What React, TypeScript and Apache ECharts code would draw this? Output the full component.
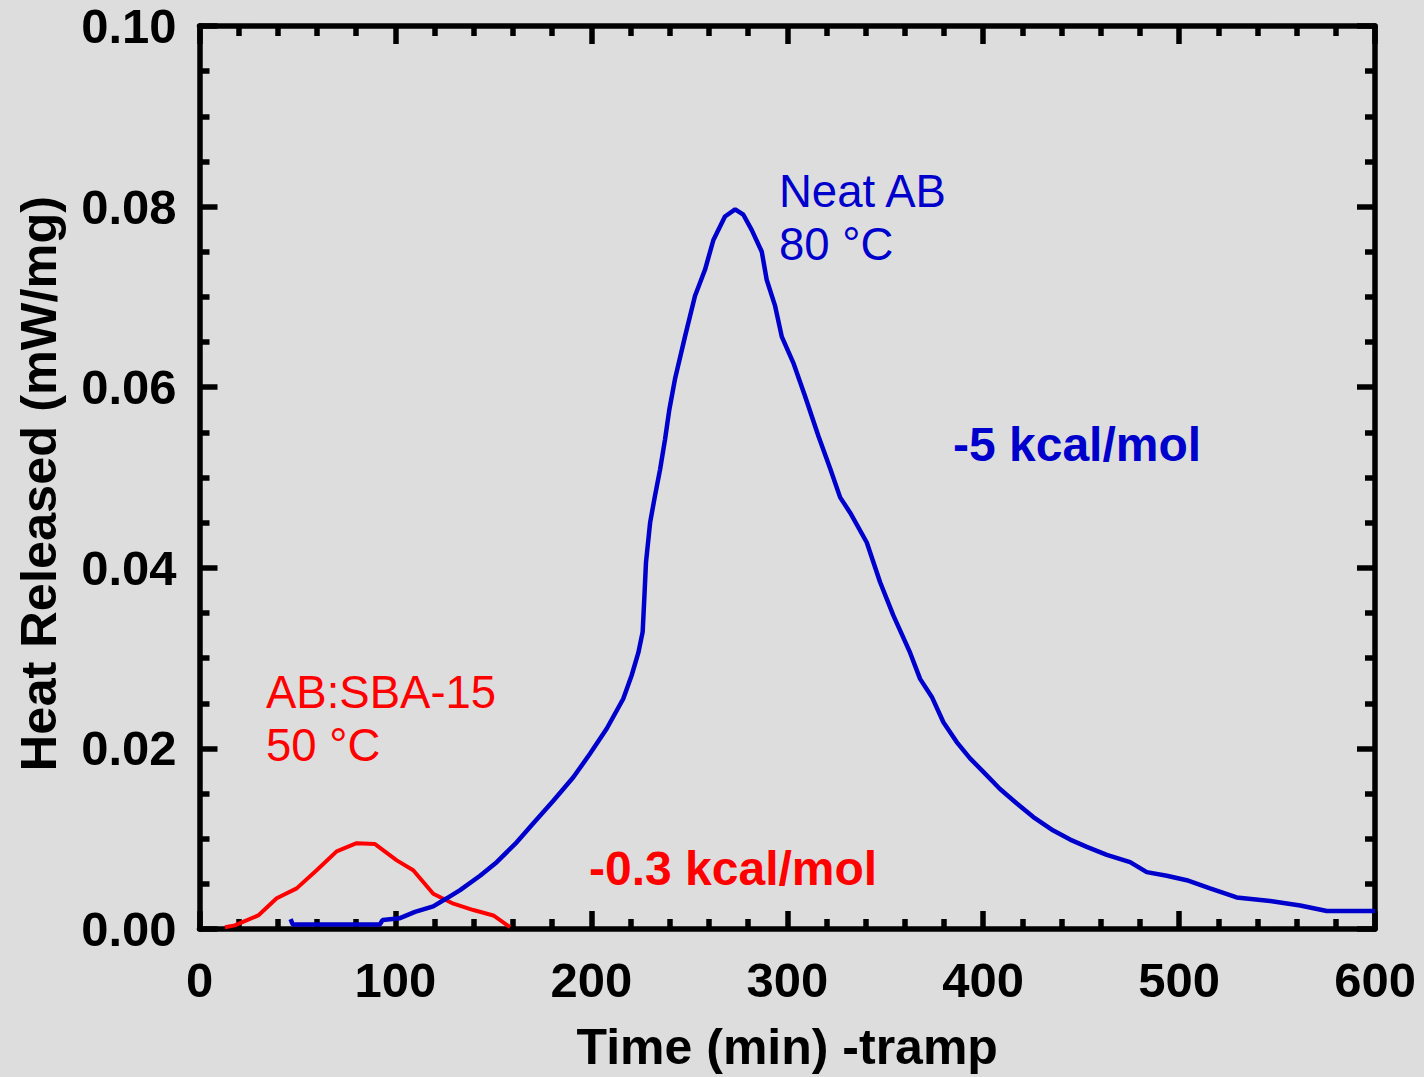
import React, { useEffect, useRef } from "react";
import * as echarts from "echarts";

// ---- data ----
const xTicks = [0, 100, 200, 300, 400, 500, 600];
const yTicks = [0, 0.02, 0.04, 0.06, 0.08, 0.1];

const redTime = [13, 18, 30, 39.4, 49.6, 59.8, 70, 80.2, 89.6, 100.7, 109.1, 119.3, 129.6, 139.8, 150, 158.5];
const redHeat = [0.0002, 0.0004, 0.0015, 0.0034, 0.0045, 0.0065, 0.0086, 0.0095, 0.0094, 0.0076, 0.0065, 0.0039, 0.0028, 0.0021, 0.0015, 0.0002];

const blueTime = [
  46.5, 47.6, 60, 75, 92, 93.5, 102.3, 110, 119.3, 126.2, 133, 143.2, 151.7, 161.9, 170.4, 180.6, 190.8, 199.3,
  207.9, 216.3, 220.6, 224, 226.2, 227.1, 227.9, 230, 232.5, 235.1, 237.6, 239.8, 242.7, 247.8, 252.9, 258,
  262.3, 268.2, 273.4, 277.6, 281.9, 287, 289.5, 293.8, 297.2, 303.1, 309.1, 315.9, 321.9, 327, 332.1, 340.6,
  347.4, 354.2, 362.7, 367.8, 373.8, 379.7, 386.5, 393.3, 400.1, 408.6, 417.2, 425.6, 435.8, 444.4, 452.9,
  463.1, 475, 483.5, 493.7, 503.9, 515.8, 529.4, 546.5, 561.8, 575.4, 600,
];
const blueHeat = [
  0.0011, 0.0005, 0.0005, 0.0005, 0.0005, 0.001, 0.0012, 0.0019, 0.0025, 0.0034, 0.0043, 0.0059, 0.0074, 0.0096,
  0.0117, 0.0142, 0.0168, 0.0194, 0.0222, 0.0255, 0.0281, 0.0306, 0.0329, 0.0369, 0.0406, 0.045, 0.048, 0.0509,
  0.0542, 0.0575, 0.0609, 0.0656, 0.0701, 0.073, 0.0763, 0.0789, 0.0797, 0.0791, 0.0774, 0.075, 0.0719, 0.069,
  0.0656, 0.0627, 0.059, 0.0546, 0.051, 0.0478, 0.0461, 0.0428, 0.0384, 0.0347, 0.0306, 0.0277, 0.0257, 0.0229,
  0.0207, 0.0189, 0.0174, 0.0155, 0.0139, 0.0124, 0.0109, 0.0099, 0.0091, 0.0082, 0.0074, 0.0063, 0.0059,
  0.0054, 0.0045, 0.0035, 0.0031, 0.0026, 0.002, 0.002,
];

const FONT = "Arial, 'Liberation Sans', Helvetica, sans-serif";
const BLUE = "#0000cc";
const RED = "#ff0000";
const BG = "#dddddd";

export default function App() {
  const ref = useRef<HTMLDivElement>(null);

  useEffect(() => {
    document.body.style.margin = "0";
    document.body.style.background = BG;
    const chart = echarts.init(ref.current!, null, { renderer: "svg" });

    const axisCommon = {
      type: "value" as const,
      axisLine: { show: true, onZero: false, lineStyle: { color: "#000", width: 5.5 } },
      splitLine: { show: false },
      minorSplitLine: { show: false },
    };

    const xBase = {
      ...axisCommon,
      min: xTicks[0],
      max: xTicks[xTicks.length - 1],
      interval: 100,
      axisTick: { show: true, inside: true, length: 18, lineStyle: { color: "#000", width: 5.5 } },
      minorTick: { show: true, splitNumber: 5, length: 10, lineStyle: { color: "#000", width: 5.5 } },
    };
    const yBase = {
      ...axisCommon,
      min: yTicks[0],
      max: yTicks[yTicks.length - 1],
      interval: 0.02,
      axisTick: { show: true, inside: true, length: 18, lineStyle: { color: "#000", width: 5.5 } },
      minorTick: { show: true, splitNumber: 4, length: 10, lineStyle: { color: "#000", width: 5.5 } },
    };

    const textEl = (text: string, x: number, y: number, color: string, bold: boolean, size: number) => ({
      type: "text",
      x,
      y,
      z: 100,
      style: {
        text,
        fill: color,
        font: `${bold ? "bold " : ""}${size}px ${FONT}`,
        align: "left",
        verticalAlign: "middle",
      },
    });

    chart.setOption({
      animation: false,
      backgroundColor: BG,
      grid: { left: 199.5, right: 49, top: 26, bottom: 146.5, containLabel: false },
      xAxis: [
        {
          ...xBase,
          position: "bottom",
          name: "Time (min) -tramp",
          nameLocation: "middle",
          nameGap: 93,
          nameTextStyle: { color: "#000", fontFamily: FONT, fontWeight: "bold", fontSize: 50 },
          axisLabel: {
            show: true,
            margin: 26,
            color: "#000",
            fontFamily: FONT,
            fontWeight: "bold",
            fontSize: 49,
            formatter: (v: number) => String(v),
          },
        },
        { ...xBase, position: "top", axisLabel: { show: false } },
      ],
      yAxis: [
        {
          ...yBase,
          position: "left",
          name: "Heat Released (mW/mg)",
          nameLocation: "middle",
          nameGap: 136,
          nameRotate: 90,
          nameTextStyle: {
            color: "#000",
            fontFamily: FONT,
            fontWeight: "bold",
            fontSize: 50.5,
            padding: [0, 12, 0, 0],
          },
          axisLabel: {
            show: true,
            margin: 23,
            color: "#000",
            fontFamily: FONT,
            fontWeight: "bold",
            fontSize: 49,
            formatter: (v: number) => v.toFixed(2),
          },
        },
        { ...yBase, position: "right", axisLabel: { show: false } },
      ],
      series: [
        {
          name: "AB:SBA-15 50 °C",
          type: "line",
          xAxisIndex: 0,
          yAxisIndex: 0,
          showSymbol: false,
          symbol: "none",
          lineStyle: { color: RED, width: 4 },
          data: redTime.map((t, i) => [t, redHeat[i]]),
          z: 3,
        },
        {
          name: "Neat AB 80 °C",
          type: "line",
          xAxisIndex: 0,
          yAxisIndex: 0,
          showSymbol: false,
          symbol: "none",
          lineStyle: { color: BLUE, width: 4.5 },
          data: blueTime.map((t, i) => [t, blueHeat[i]]),
          z: 4,
        },
      ],
      graphic: [
        textEl("Neat AB", 779, 191, BLUE, false, 45.5),
        textEl("80 °C", 779, 244, BLUE, false, 45.5),
        textEl("AB:SBA-15", 266, 692, RED, false, 45.5),
        textEl("50 °C", 266, 745, RED, false, 45.5),
        textEl("-5 kcal/mol", 953, 444, BLUE, true, 48),
        textEl("-0.3 kcal/mol", 589, 868, RED, true, 48),
      ],
    });

    return () => chart.dispose();
  }, []);

  return (
    <div
      ref={ref}
      style={{ position: "fixed", left: 0, top: 0, width: 1424, height: 1077, background: BG }}
    />
  );
}
